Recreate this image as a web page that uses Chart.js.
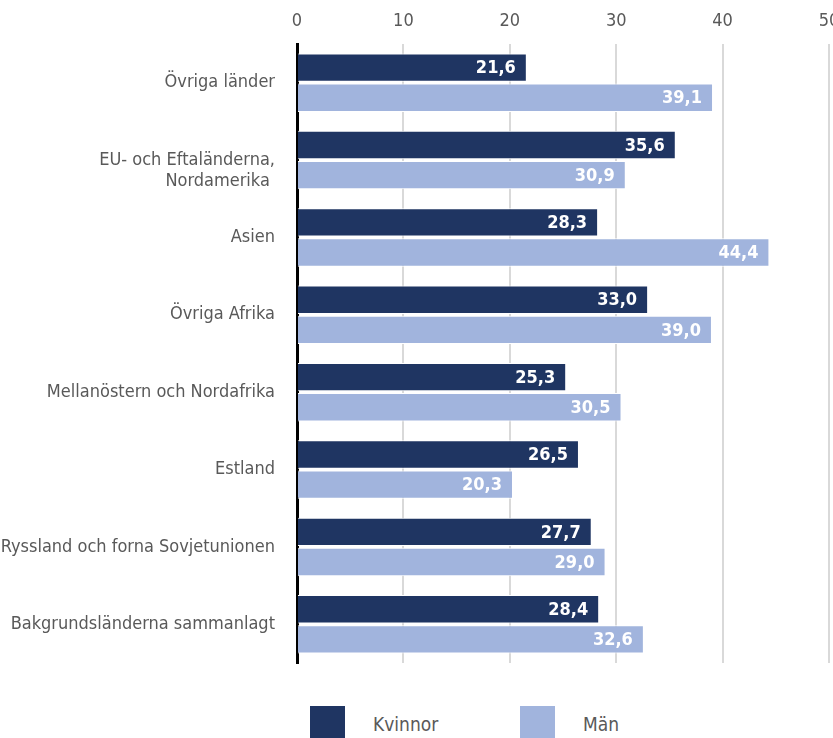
<!DOCTYPE html>
<html>
<head>
<meta charset="utf-8">
<script src="https://cdn.jsdelivr.net/npm/chart.js"></script>
<style>
  html, body { margin: 0; padding: 0; background: #fff; width: 833px; height: 738px; overflow: hidden; }
  #chart { position: absolute; left: 0; top: 0; }
  #legend { position: absolute; left: 310px; top: 706px; display: flex; font-family: 'Liberation Sans Narrow', 'DejaVu Sans Condensed', sans-serif; font-size: 19px; color: #595959; }
  #legend .item { display: flex; align-items: center; width: 210px; }
  #legend .box { width: 35px; height: 35px; margin-right: 28px; }
</style>
</head>
<body>
<canvas id="chart" width="838" height="665"></canvas>
<div id="legend"></div>
<script>
// data
const categories = [
  'Övriga länder',
  ['', 'EU- och Eftaländerna,', 'Nordamerika '],  // blank first line pushes it down like the original
  'Asien',
  'Övriga Afrika',
  'Mellanöstern och Nordafrika',
  'Estland',
  'Ryssland och forna Sovjetunionen',
  'Bakgrundsländerna sammanlagt'
];
const kvinnor = [21.6, 35.6, 28.3, 33.0, 25.3, 26.5, 27.7, 28.4];
const man = [39.1, 30.9, 44.4, 39.0, 30.5, 20.3, 29.0, 32.6];
const xTicks = [0, 10, 20, 30, 40, 50];

const FONT = "'Liberation Sans Narrow', 'DejaVu Sans Condensed', sans-serif";
const DARK = '#1f3562';
const LIGHT = '#a1b4dd';

// white value labels at the end of each bar
const barValueLabels = {
  id: 'barValueLabels',
  afterDatasetsDraw(chart) {
    const ctx = chart.ctx;
    ctx.save();
    ctx.font = 'bold 18px ' + FONT;
    ctx.fillStyle = '#fff';
    ctx.textAlign = 'right';
    ctx.textBaseline = 'middle';
    chart.data.datasets.forEach((ds, i) => {
      chart.getDatasetMeta(i).data.forEach((bar, j) => {
        ctx.fillText(ds.data[j].toFixed(1).replace('.', ','), bar.x - 11, bar.y + 1);
      });
    });
    ctx.restore();
  }
};

const chart = new Chart(document.getElementById('chart'), {
  type: 'bar',
  data: {
    labels: categories,
    datasets: [
      { label: 'Kvinnor', data: kvinnor, backgroundColor: DARK, borderColor: '#fff', borderWidth: 1 },
      { label: 'Män', data: man, backgroundColor: LIGHT, borderColor: '#fff', borderWidth: 1 }
    ]
  },
  options: {
    indexAxis: 'y',
    responsive: false,
    animation: false,
    layout: { padding: { bottom: 2 } },
    datasets: { bar: { categoryPercentage: 0.78, barPercentage: 0.94 } },
    plugins: { legend: { display: false }, tooltip: { enabled: false } },
    scales: {
      x: {
        position: 'top',
        min: 0,
        max: 50,
        afterBuildTicks: s => { s.ticks = xTicks.map(v => ({ value: v })); },
        // the "50" label runs off the right edge as in the original
        afterFit: s => { s.height = 44; s.paddingLeft = 0; s.paddingRight = 9; },
        ticks: { color: '#595959', font: { family: FONT, size: 18 }, padding: 12 },
        grid: { color: '#d9d9d9', lineWidth: 2, drawTicks: false },
        border: { display: false }
      },
      y: {
        afterFit: s => { s.width = 297; s.paddingTop = 0; s.paddingBottom = 0; },
        ticks: { color: '#595959', font: { family: FONT, size: 18 }, padding: 22 },
        grid: { display: false, drawTicks: false },
        border: { color: '#000', width: 3 }
      }
    }
  },
  plugins: [barValueLabels]
});

// legend below the chart, built from the datasets
const legendEl = document.getElementById('legend');
chart.data.datasets.forEach(ds => {
  const item = document.createElement('div');
  item.className = 'item';
  const box = document.createElement('span');
  box.className = 'box';
  box.style.background = ds.backgroundColor;
  const txt = document.createElement('span');
  txt.textContent = ds.label;
  item.appendChild(box);
  item.appendChild(txt);
  legendEl.appendChild(item);
});
</script>
</body>
</html>
